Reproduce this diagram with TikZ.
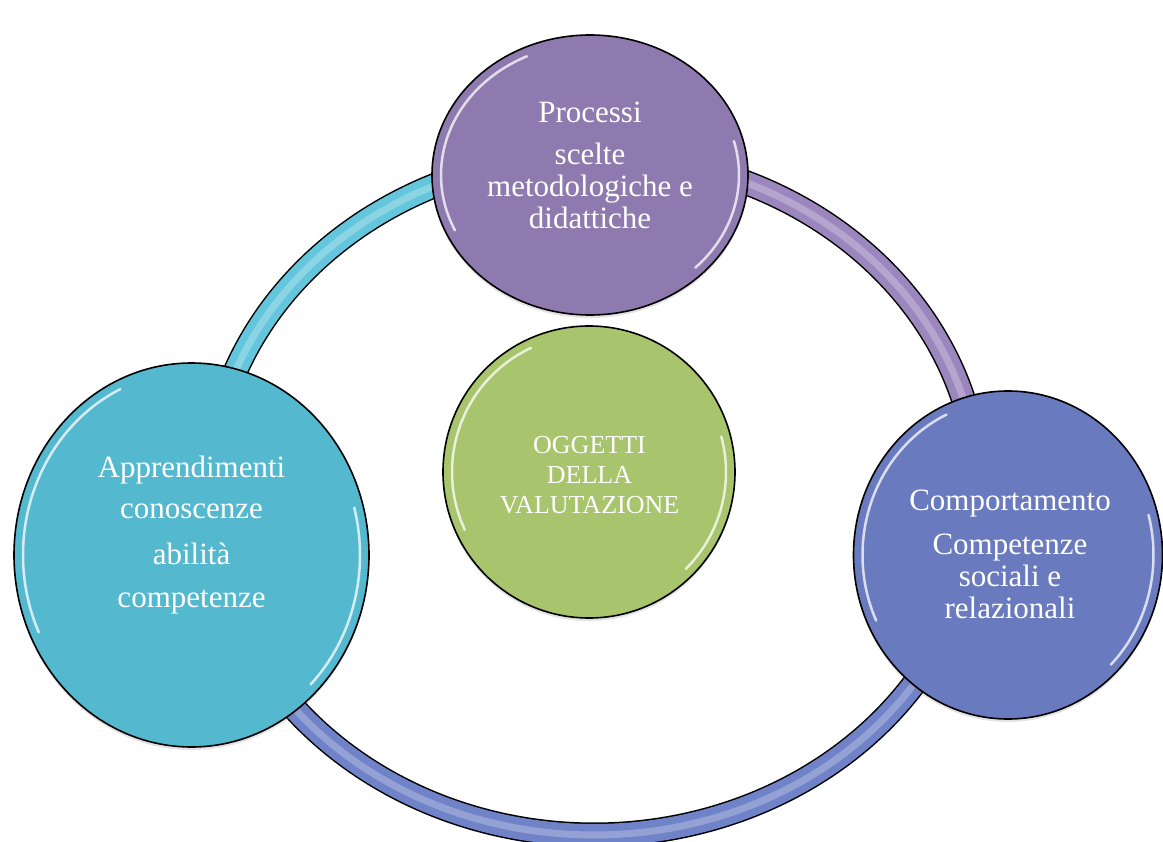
\documentclass[tikz,border=0pt]{standalone}
\usepackage{fontspec}
\setmainfont{Liberation Serif}
\usetikzlibrary{shapes.geometric,shadows}
\definecolor{cpurple}{RGB}{142,122,174}
\definecolor{cteal}{RGB}{84,184,207}
\definecolor{cblue}{RGB}{106,122,190}
\definecolor{cgreen}{RGB}{168,196,108}
\definecolor{bteal}{RGB}{100,198,220}
\definecolor{bpurple}{RGB}{156,134,190}
\definecolor{bblue}{RGB}{112,130,200}
\newcommand\bandseg[3]{%
  \draw[line width=25pt, black] plot[domain=#2:#3, samples=120, smooth] ({594+385*cos(\x)},{495-340*sin(\x)});
  \draw[line width=22pt, #1] plot[domain=#2:#3, samples=120, smooth] ({594+385*cos(\x)},{495-340*sin(\x)});
  \draw[line width=7pt, white, opacity=0.25] plot[domain=#2:#3, samples=120, smooth] ({594+385*cos(\x)},{495-340*sin(\x)});
}
\newcommand\glossarcs[4]{%
  \draw[white, opacity=0.75, line width=2.5pt, line cap=round] plot[domain=115:205, samples=50, smooth] ({#1+(#3-9)*cos(\x)},{#2-(#4-9)*sin(\x)});
  \draw[white, opacity=0.75, line width=2.5pt, line cap=round] plot[domain=15:-45, samples=50, smooth] ({#1+(#3-9)*cos(\x)},{#2-(#4-9)*sin(\x)});
}
\begin{document}
\begin{tikzpicture}[x=1pt,y=-1pt,
  bubble/.style={ellipse, draw=black, line width=1.6pt, inner sep=0pt,
    drop shadow={opacity=0.22, shadow xshift=0pt, shadow yshift=-3pt}},
  ltext/.style={text=white, align=center, anchor=base, font=\fontsize{31}{32}\selectfont},
  gtext/.style={text=white, align=center, anchor=base, font=\fontsize{26}{30}\selectfont}]
\useasboundingbox (0,0) rectangle (1163,842);
% ring
\bandseg{bteal}{90}{190}
\bandseg{bpurple}{-10}{90}
\bandseg{bblue}{190}{350}
% circles
\node[bubble, fill=cpurple, minimum width=316pt, minimum height=280pt] (proc) at (590,175) {};
\node[bubble, fill=cteal, minimum width=355pt, minimum height=384pt] (appr) at (191.5,555) {};
\node[bubble, fill=cblue, minimum width=309pt, minimum height=328pt] (comp) at (1008,555) {};
\node[bubble, fill=cgreen, minimum width=292pt, minimum height=292pt] (ogg) at (589,472) {};
\glossarcs{590}{175}{158}{140}
\glossarcs{191.5}{555}{177.5}{192}
\glossarcs{1008}{555}{154.5}{164}
\glossarcs{589}{472}{146}{146}
% texts (base anchor = baseline of the last line)
\node[ltext] (proct) at (590,229) {Processi\\[10pt] scelte\\ metodologiche e\\ didattiche};
\node[ltext] (apprt) at (191.5,607) {Apprendimenti\\[9pt] conoscenze\\[14pt] abilità\\[11pt] competenze};
\node[ltext] (compt) at (1010,618) {Comportamento\\[12pt] Competenze\\ sociali e\\ relazionali};
\node[gtext] (oggt) at (589.5,513) {OGGETTI\\ DELLA\\ VALUTAZIONE};
\end{tikzpicture}
\end{document}
